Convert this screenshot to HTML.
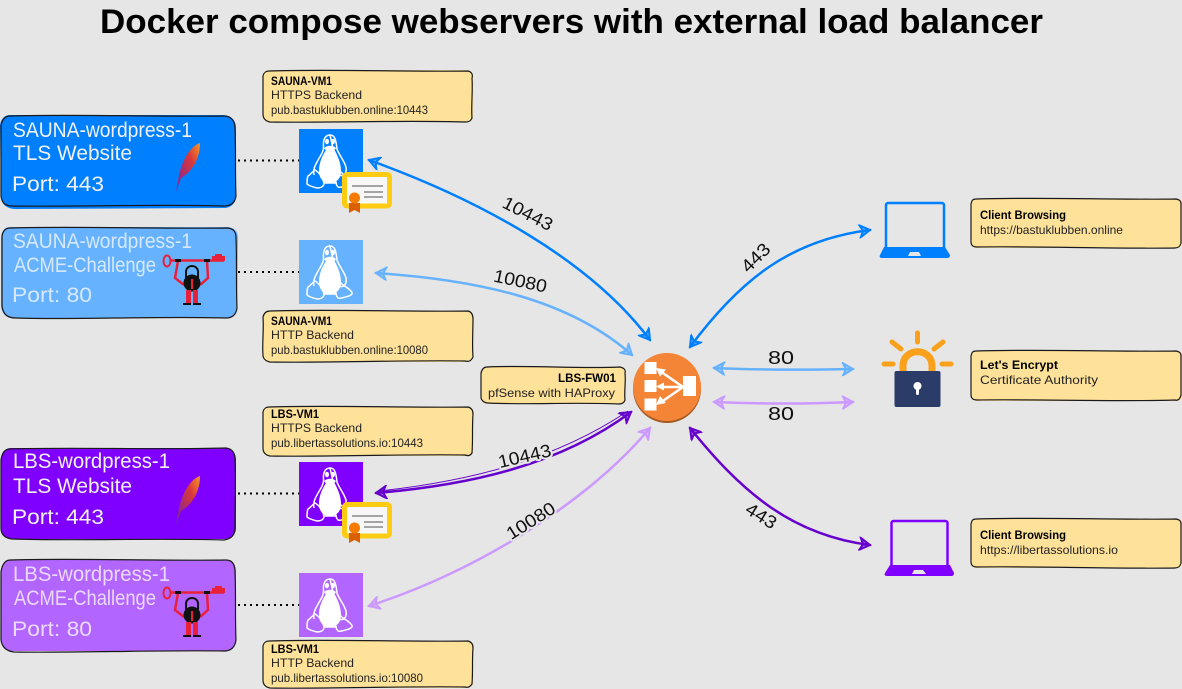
<!DOCTYPE html>
<html><head><meta charset="utf-8"><title>Docker compose webservers with external load balancer</title>
<style>
html,body{margin:0;padding:0;background:#e6e6e6}
svg{display:block}
text{font-family:"Liberation Sans",sans-serif}
.t{font-size:21px;fill:#f2f2f2}
.l{font-size:21px;fill:#d6e9fc}
.p{font-size:21px;fill:#ead9fc}
.n{font-size:12px;fill:#222}
.b{font-size:12px;fill:#000;font-weight:bold}
.a{font-size:18px;fill:#111;stroke:#e6e6e6;stroke-width:4px;paint-order:stroke;stroke-linejoin:round}
.box{stroke:#1a1a1a;stroke-width:1.2;fill:none}
.dot{stroke:#000;stroke-width:2;stroke-dasharray:2 4;fill:none}
.w{fill:none;stroke-width:2.5;stroke-linecap:round}
</style></head><body>
<svg xmlns="http://www.w3.org/2000/svg" width="1182" height="689" viewBox="0 0 1182 689">
<defs>
<marker id="mb" markerUnits="userSpaceOnUse" markerWidth="16" markerHeight="14" refX="13" refY="7" orient="auto-start-reverse"><path d="M3 1L13 7L3 13L6 7Z" fill="#007fff" fill-opacity=".55" stroke="#007fff" stroke-width="2"/></marker>
<marker id="ml" markerUnits="userSpaceOnUse" markerWidth="16" markerHeight="14" refX="13" refY="7" orient="auto-start-reverse"><path d="M3 1L13 7L3 13L6 7Z" fill="#66b2ff" fill-opacity=".55" stroke="#66b2ff" stroke-width="2"/></marker>
<marker id="mp" markerUnits="userSpaceOnUse" markerWidth="16" markerHeight="14" refX="13" refY="7" orient="auto-start-reverse"><path d="M3 1L13 7L3 13L6 7Z" fill="#6600cc" fill-opacity=".55" stroke="#6600cc" stroke-width="2"/></marker>
<marker id="mq" markerUnits="userSpaceOnUse" markerWidth="16" markerHeight="14" refX="13" refY="7" orient="auto-start-reverse"><path d="M3 1L13 7L3 13L6 7Z" fill="#cc99ff" fill-opacity=".55" stroke="#cc99ff" stroke-width="2"/></marker>
<linearGradient id="fe" x1="1" y1="0" x2="0" y2="1"><stop offset="0" stop-color="#f69923"/><stop offset=".35" stop-color="#d9383a"/><stop offset=".75" stop-color="#9b2a7f"/><stop offset="1" stop-color="#6b2c91"/></linearGradient>
<g id="tux">
<path d="M31 6C26 6 24 11 24.500 17C25 23 21 27 18 33C15 38 14 42 15 46M40 46C45 48 48 44 47 38C45 31 40 26 38 20C37 11 36 6 31 6Z" fill="none" stroke="#fff" stroke-width="1.500"/>
<path d="M30 17C27 21 20 30 20 42C20 50 25 54 31 54C38 54 42 49 42 42C42 32 37 24 34 18Z" fill="#fff"/>
<path d="M26 12.500a2 2.800 0 1 0 4 0a2 2.800 0 1 0-4 0M32 12.500a2 2.800 0 1 0 4 0a2 2.800 0 1 0-4 0" fill="#fff"/>
<path d="M25 19C28 16 34 16 37 19C34 24 28 24 25 19Z" fill="#fff"/>
<path d="M9 47C11 46 14 42 16 41C20 43 24 49 25 54C25 58 21 59 18 59C14 58 10 57 8 55C8 52 8 49 9 47Z" fill="none" stroke="#fff" stroke-width="1.500"/>
<path d="M41 42C43 45 48 47 51 50C54 53 54 54 50 56C46 57 42 59 39 58C37 56 36 52 37 49C38 46 39 43 41 42Z" fill="none" stroke="#fff" stroke-width="1.500"/>
<path d="M25 54H38" stroke="#fff" stroke-width="1.500"/>
</g>
<g id="cert">
<rect x="344.500" y="174.500" width="45" height="31.500" fill="#f7f7f7" stroke="#ffcc11" stroke-width="5" rx="2.500"/>
<path d="M352 186h31M364 192h19M364 197h19" stroke="#888" stroke-width="1.500"/>
<path d="M349 203h11v10l-5.500-3l-5.500 3Z" fill="#d95f02"/>
<circle cx="354.500" cy="198" r="5.500" fill="#f57c00"/>
</g>
<g id="fea"><path d="M200 143C191 146 183 158 179 175L176 192L181 178C190 173 200 161 200 143Z" fill="url(#fe)"/></g>
<g id="key">
<ellipse cx="167" cy="261" rx="3.500" ry="5.500" fill="none" stroke="#e8203a" stroke-width="2"/>
<path d="M170.500 260.500H224" stroke="#e8203a" stroke-width="2.500" fill="none"/>
<path d="M212 261V256H215V254H222V256H225V261Z" fill="#e8203a"/>
<path d="M178 261L175 278L184 285M207 261L208 278L200 285" fill="none" stroke="#e8203a" stroke-width="2.500"/>
<path d="M175 260.500h6M204 260.500h6" stroke="#111" stroke-width="3"/>
<path d="M186 278V272C186 264 198 264 198 272V278" fill="none" stroke="#111" stroke-width="2"/>
<circle cx="192" cy="283" r="8.500" fill="#111"/>
<path d="M192 279V289" stroke="#e8203a" stroke-width="2"/>
<path d="M186 290H191V303H186ZM193 290H198V303H193Z" fill="#e8203a"/>
<path d="M183 304H191M193 304H201" stroke="#111" stroke-width="2"/>
</g>
</defs>
<rect width="1182" height="689" fill="#e6e6e6"/>

<text x="100" y="33" font-size="34" font-weight="bold" fill="#000" textLength="943" lengthAdjust="spacingAndGlyphs">Docker compose webservers with external load balancer</text>

<!-- Left boxes -->
<path d="M10 115H222C231 115 236 120 236 128L236 196C236 203 231 208 224 208L14 209C5 208 1 203 1 195L0 127C0 120 4 115 10 115Z" fill="#007fff"/>
<path class="box" d="M10 116C70 114 160 117 224 116C232 116 235 122 235 128C236 150 235 175 236 196C235 203 231 206 224 206C160 204 70 207 12 206C5 206 2 203 1 196L1 126C2 120 5 116 10 116Z"/>
<path d="M10 227H226C233 227 238 230 238 238L237 306C237 314 232 318 224 318H14C5 318 2 313 1 306L1 238C1 231 5 227 10 227Z" fill="#66b2ff"/>
<path class="box" d="M10 228C70 226 160 229 228 228C234 229 236 232 236 238C237 262 236 285 237 308C236 315 232 318 226 318C160 316 70 320 16 318C7 318 3 314 2 306L2 238C2 232 5 228 10 228Z"/>
<path d="M10 448H224C232 448 236 453 236 460V528C236 535 231 539 224 539H12C4 539 0 534 1 526V460C1 453 4 449 10 448Z" fill="#7f00ff"/>
<path class="box" d="M10 449C70 447 160 450 226 448C232 449 235 452 235 460C236 482 235 505 235 528C235 535 231 539 224 540C160 538 70 541 12 539C4 538 1 534 1 528L1 460C2 453 5 449 10 449Z"/>
<path d="M10 560H224C232 560 236 564 236 572V640C236 647 231 651 224 651H14C5 651 1 647 1 640V572C1 565 5 560 10 560Z" fill="#b266ff"/>
<path class="box" d="M10 560C70 558 160 561 226 560C232 560 235 564 235 572C236 595 235 618 236 640C235 647 231 651 224 651C160 650 70 653 14 652C6 651 2 647 1 640L1 572C2 565 5 560 10 560Z"/>

<text class="t" x="13" y="137" textLength="179" lengthAdjust="spacingAndGlyphs">SAUNA-wordpress-1</text>
<text class="t" x="13" y="160" textLength="119" lengthAdjust="spacingAndGlyphs">TLS Website</text>
<text class="t" x="12" y="191" textLength="92" lengthAdjust="spacingAndGlyphs">Port: 443</text>
<text class="l" x="13" y="248" textLength="179" lengthAdjust="spacingAndGlyphs">SAUNA-wordpress-1</text>
<text class="l" x="14" y="272" textLength="142" lengthAdjust="spacingAndGlyphs">ACME-Challenge</text>
<text class="l" x="12" y="302" textLength="80" lengthAdjust="spacingAndGlyphs">Port: 80</text>
<text class="t" x="13" y="468" textLength="157" lengthAdjust="spacingAndGlyphs">LBS-wordpress-1</text>
<text class="t" x="13" y="493" textLength="119" lengthAdjust="spacingAndGlyphs">TLS Website</text>
<text class="t" x="12" y="524" textLength="92" lengthAdjust="spacingAndGlyphs">Port: 443</text>
<text class="p" x="13" y="581" textLength="157" lengthAdjust="spacingAndGlyphs">LBS-wordpress-1</text>
<text class="p" x="14" y="605" textLength="142" lengthAdjust="spacingAndGlyphs">ACME-Challenge</text>
<text class="p" x="12" y="636" textLength="80" lengthAdjust="spacingAndGlyphs">Port: 80</text>

<use href="#fea"/>
<use href="#fea" y="333"/>
<use href="#key"/>
<use href="#key" y="332"/>

<!-- dotted -->
<path class="dot" d="M238 160.500H299M238 272H299M238 493.500H299M238 605H299"/>

<!-- Linux -->
<rect x="299" y="129" width="64" height="64" fill="#007fff"/><use href="#tux" x="299" y="129"/>
<rect x="299" y="240" width="64" height="64" fill="#66b2ff"/><use href="#tux" x="299" y="240"/>
<rect x="299" y="462" width="64" height="64" fill="#7f00ff"/><use href="#tux" x="299" y="462"/>
<rect x="299" y="573" width="64" height="64" fill="#b266ff"/><use href="#tux" x="299" y="573"/>
<use href="#cert"/>
<use href="#cert" y="330"/>

<!-- Notes -->
<g fill="#ffe29a">
<path d="M270 70H465C471 70 473 73 473 78V116C473 120 470 122 465 122H270C265 122 263 119 263 115V76C263 72 266 70 270 70Z"/>
<path d="M270 311H465C471 311 473 314 473 319V356C473 360 470 362 465 362H270C265 362 263 359 263 355V317C263 313 266 311 270 311Z"/>
<path d="M270 407H465C471 407 473 410 473 414V450C473 454 470 456 465 456H270C265 456 263 453 263 449V413C263 409 266 407 270 407Z"/>
<path d="M270 641H465C471 641 473 644 473 648V682C473 686 470 688 465 688H270C265 688 263 686 263 681V647C263 643 266 641 270 641Z"/>
<path d="M488 367H620C624 367 626 370 626 373V399C626 402 624 404 620 404H488C483 404 481 401 481 398V373C481 369 484 367 488 367Z"/>
<path d="M977 199H1177C1180 199 1182 200 1182 204V243C1182 246 1180 248 1176 248H977C973 248 971 246 971 243V204C971 201 973 199 977 199Z"/>
<path d="M977 351H1177C1180 351 1182 352 1182 356V396C1182 399 1180 401 1176 401H977C973 401 971 399 971 396V356C971 353 973 351 977 351Z"/>
<path d="M977 519H1177C1180 519 1182 520 1182 524V563C1182 566 1180 568 1176 568H977C973 568 971 566 971 563V524C971 521 973 519 977 519Z"/>
</g>
<g>
<path class="box" d="M269 71C330 69 410 72 468 71C472 72 473 75 472 78C473 92 471 105 472 118C471 121 469 122 465 122C400 120 330 123 270 122C265 121 263 118 263 114V76C264 72 266 71 269 71Z"/>
<path class="box" d="M270 311C330 309 410 312 468 311C472 312 473 315 473 319C473 330 472 345 473 357C471 361 469 362 465 361C400 360 330 363 270 362C265 361 263 358 263 355C262 345 264 330 263 317C264 313 266 311 270 311Z"/>
<path class="box" d="M269 407C330 405 410 408 468 407C472 408 473 411 473 414C472 428 473 440 472 453C470 456 468 456 465 455C400 454 330 457 270 456C265 455 263 452 263 448V412C264 408 266 407 269 407Z"/>
<path class="box" d="M269 641C330 639 410 642 468 641C472 642 473 645 473 648C472 660 473 672 472 684C470 687 468 688 465 687C400 686 330 689 270 688C265 687 263 684 263 680V646C264 642 266 641 269 641Z"/>
<path class="box" d="M487 367C530 365 580 369 620 367C624 368 626 370 625 373C626 382 624 392 625 400C624 403 622 404 619 404C570 402 530 405 488 403C484 403 481 400 481 397V373C482 369 484 367 487 367Z"/>
<path class="box" d="M976 199C1040 197 1120 200 1176 199C1180 200 1181 201 1181 204V243C1180 247 1178 248 1175 248C1110 249 1040 246 977 247C973 247 971 245 971 242V204C972 200 973 199 976 199Z"/>
<path class="box" d="M976 351C1040 349 1120 352 1176 351C1180 352 1181 353 1181 356V395C1180 399 1178 401 1175 400C1110 402 1040 399 977 400C973 400 971 398 971 395V356C972 352 973 351 976 351Z"/>
<path class="box" d="M976 519C1040 517 1120 520 1176 519C1180 520 1181 521 1181 524V563C1180 567 1178 568 1175 568C1110 569 1040 566 977 567C973 567 971 565 971 562V524C972 520 973 519 976 519Z"/>
</g>

<text class="b" x="271" y="85" textLength="61" lengthAdjust="spacingAndGlyphs">SAUNA-VM1</text>
<text class="n" x="271" y="99" textLength="91" lengthAdjust="spacingAndGlyphs">HTTPS Backend</text>
<text class="n" x="271" y="114" textLength="157" lengthAdjust="spacingAndGlyphs">pub.bastuklubben.online:10443</text>
<text class="b" x="271" y="325" textLength="61" lengthAdjust="spacingAndGlyphs">SAUNA-VM1</text>
<text class="n" x="271" y="339" textLength="83" lengthAdjust="spacingAndGlyphs">HTTP Backend</text>
<text class="n" x="271" y="354" textLength="157" lengthAdjust="spacingAndGlyphs">pub.bastuklubben.online:10080</text>
<text class="b" x="271" y="418" textLength="48" lengthAdjust="spacingAndGlyphs">LBS-VM1</text>
<text class="n" x="271" y="432" textLength="91" lengthAdjust="spacingAndGlyphs">HTTPS Backend</text>
<text class="n" x="271" y="447" textLength="152" lengthAdjust="spacingAndGlyphs">pub.libertassolutions.io:10443</text>
<text class="b" x="271" y="653" textLength="48" lengthAdjust="spacingAndGlyphs">LBS-VM1</text>
<text class="n" x="271" y="667" textLength="83" lengthAdjust="spacingAndGlyphs">HTTP Backend</text>
<text class="n" x="271" y="682" textLength="152" lengthAdjust="spacingAndGlyphs">pub.libertassolutions.io:10080</text>
<text class="b" x="558" y="382" textLength="58" lengthAdjust="spacingAndGlyphs">LBS-FW01</text>
<text class="n" x="488" y="397" textLength="127" lengthAdjust="spacingAndGlyphs">pfSense with HAProxy</text>
<text class="b" x="980" y="219" textLength="86" lengthAdjust="spacingAndGlyphs">Client Browsing</text>
<text class="n" x="980" y="234" textLength="143" lengthAdjust="spacingAndGlyphs">https://bastuklubben.online</text>
<text class="b" x="980" y="369" textLength="78" lengthAdjust="spacingAndGlyphs">Let's Encrypt</text>
<text class="n" x="980" y="384" textLength="118" lengthAdjust="spacingAndGlyphs">Certificate Authority</text>
<text class="b" x="980" y="539" textLength="86" lengthAdjust="spacingAndGlyphs">Client Browsing</text>
<text class="n" x="980" y="554" textLength="138" lengthAdjust="spacingAndGlyphs">https://libertassolutions.io</text>

<!-- Connectors -->
<path class="w" stroke="#007fff" d="M369 160C480 200 590 260 650 340" marker-start="url(#mb)" marker-end="url(#mb)"/>
<path class="w" stroke="#66b2ff" d="M376 273C480 280 570 300 632 355" marker-start="url(#ml)" marker-end="url(#ml)"/>
<path class="w" stroke="#6600cc" d="M376 493C470 485 560 465 631 412" marker-start="url(#mp)" marker-end="url(#mp)"/>
<path fill="none" stroke="#6600cc" stroke-width="1" d="M380 491C470 481 555 460 628 411"/>
<path class="w" stroke="#cc99ff" d="M369 606C480 570 590 500 650 428" marker-start="url(#mq)" marker-end="url(#mq)"/>
<path class="w" stroke="#007fff" d="M690 347C740 280 790 240 870 230" marker-start="url(#mb)" marker-end="url(#mb)"/>
<path class="w" stroke="#66b2ff" d="M714 368C760 370 810 370 853 369" marker-start="url(#ml)" marker-end="url(#ml)"/>
<path class="w" stroke="#cc99ff" d="M714 402C760 404 810 404 853 402" marker-start="url(#mq)" marker-end="url(#mq)"/>
<path class="w" stroke="#6600cc" d="M690 428C740 490 790 535 870 545" marker-start="url(#mp)" marker-end="url(#mp)"/>

<text class="a" text-anchor="middle" transform="translate(525,219) rotate(27)" textLength="54" lengthAdjust="spacingAndGlyphs">10443</text>
<text class="a" text-anchor="middle" transform="translate(519,287) rotate(12)" textLength="54" lengthAdjust="spacingAndGlyphs">10080</text>
<text class="a" text-anchor="middle" transform="translate(526,462) rotate(-13)" textLength="54" lengthAdjust="spacingAndGlyphs">10443</text>
<text class="a" text-anchor="middle" transform="translate(534,526) rotate(-32)" textLength="54" lengthAdjust="spacingAndGlyphs">10080</text>
<text class="a" text-anchor="middle" transform="translate(760,262) rotate(-45)" textLength="33" lengthAdjust="spacingAndGlyphs">443</text>
<text class="a" text-anchor="middle" transform="translate(758,521) rotate(32)" textLength="33" lengthAdjust="spacingAndGlyphs">443</text>
<text class="a" x="768" y="364" textLength="26" lengthAdjust="spacingAndGlyphs">80</text>
<text class="a" x="768" y="420" textLength="26" lengthAdjust="spacingAndGlyphs">80</text>

<!-- Load balancer -->
<circle cx="667" cy="389" r="34" fill="#a35a24"/>
<circle cx="667" cy="387" r="34" fill="#f58536"/>
<g fill="#fff">
<rect x="644.500" y="362" width="12" height="12"/><rect x="644.500" y="380" width="12" height="12"/><rect x="644.500" y="398.500" width="12" height="12"/><rect x="683" y="376" width="13" height="20"/>
</g>
<path d="M683 387L660 371M683 387H660M683 387L660 403" stroke="#fff" stroke-width="2.500" fill="none"/>
<path d="M656 368L666 369.500L660 376.500ZM656 386.500L664 382.500V390.500ZM656 405L660 396L666 403Z" fill="#fff"/>

<!-- Laptop blue -->
<rect x="886" y="203" width="58" height="47" rx="2" fill="none" stroke="#007fff" stroke-width="2.500"/>
<path d="M884 247H945L950 255C950 257 949 258 947 258H882C880 258 879 257 880 255Z" fill="#007fff"/>
<path d="M908 256L910 252H919L921 256Z" fill="#e6e6e6"/>
<!-- Laptop purple -->
<rect x="891.500" y="521" width="56" height="47" rx="2" fill="none" stroke="#7f00ff" stroke-width="2.500"/>
<path d="M890 565H950L954 573C954 575 953 576 951 576H887C885 576 884 575 885 573Z" fill="#7f00ff"/>
<path d="M912 574L914 570H923L926 574Z" fill="#e6e6e6"/>

<!-- Let's Encrypt -->
<g stroke="#f9a11b" stroke-width="5" stroke-linecap="round" fill="none">
<path d="M917.500 333V342M892 342L901 349M943 342L934 349M884 364H893M942 364H951"/>
<path d="M903 372V366C903 347 932 347 932 366V372" stroke-width="7" stroke-linecap="butt"/>
</g>
<rect x="894.500" y="371" width="46" height="36" rx="2" fill="#2c3c69"/>
<circle cx="917.500" cy="386" r="4" fill="#fff"/>
<rect x="916" y="386" width="3" height="9" rx="1.500" fill="#fff"/>
</svg>
</body></html>
